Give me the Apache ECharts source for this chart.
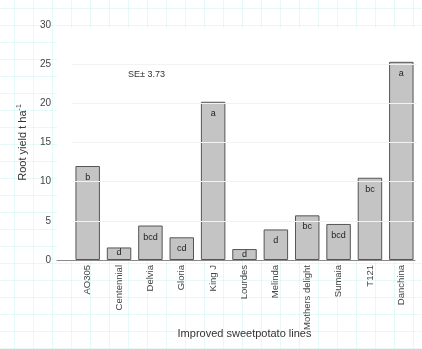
<!DOCTYPE html>
<html><head><meta charset="utf-8">
<script src="https://cdn.jsdelivr.net/npm/echarts/dist/echarts.min.js"></script>
<style>
html,body{margin:0;padding:0;background:#fff;}
#c{width:422px;height:349px;
background-image:linear-gradient(rgba(140,230,230,0.22) 1px, transparent 1px),linear-gradient(90deg, rgba(140,230,230,0.22) 1px, transparent 1px);
background-size:19px 17px;background-position:14px 8px;}
</style></head>
<body><div id="c"></div>
<script>
const categories = ['AO305','Centennial','Delvia','Gloria','King J','Lourdes','Melinda','Mothers delight','Sumaia','T121','Danchina'];
const rootYield = [12.0, 1.6, 4.4, 2.9, 20.2, 1.4, 3.9, 5.7, 4.6, 10.5, 25.3];
const meanLetters = ['b','d','bcd','cd','a','d','d','bc','bcd','bc','a'];
const yMin = 0, yMax = 30, yStep = 5;
const seText = 'SE\u00b1 3.73';

const FONT = 'Liberation Sans, Arial, sans-serif';
const chart = echarts.init(document.getElementById('c'), null, {renderer:'canvas'});
chart.setOption({
  backgroundColor: 'transparent',
  animation: false,
  textStyle: {fontFamily: FONT},
  graphic: [
    {type:'rect', left:57, top:28, shape:{width:365, height:232}, style:{fill:'#fff'}, z:-100, silent:true},
    {type:'text', left:128, top:70, style:{text:seText, fontSize:9, fill:'#333', fontFamily:FONT}}
  ],
  grid: [
    {left:57, right:7, top:25, bottom:89, show:false, containLabel:false, outerBoundsMode:'none'},
    {left:72, right:5, top:25, bottom:89, show:false, containLabel:false, outerBoundsMode:'none'}
  ],
  xAxis: [
    {gridIndex:0, type:'value', min:0, max:1, z:6,
     axisLine:{show:true, onZero:false, lineStyle:{color:'#8a8a8a', width:1}},
     axisTick:{show:false}, axisLabel:{show:false}, splitLine:{show:false}},
    {gridIndex:1, type:'category', data:categories,
     axisLine:{show:false}, axisTick:{show:false},
     axisLabel:{rotate:90, interval:0, fontSize:9.5, color:'#444', margin:5, fontFamily:FONT},
     name:'Improved sweetpotato lines', nameLocation:'middle', nameGap:68, nameMoveOverlap:false,
     nameTextStyle:{fontSize:11, color:'#333', fontFamily:FONT}}
  ],
  yAxis: [
    {gridIndex:0, type:'value', min:yMin, max:yMax, interval:yStep,
     axisLine:{show:false}, axisTick:{show:false}, splitLine:{show:false},
     axisLabel:{fontSize:10, color:'#444', margin:6, fontFamily:FONT},
     name:'{a|Root yield t ha}{b|-1}', nameLocation:'middle', nameRotate:90, nameGap:27, nameMoveOverlap:false,
     nameTextStyle:{color:'#333', rich:{a:{fontSize:11, color:'#333', fontFamily:FONT, lineHeight:14},
                                      b:{fontSize:7, color:'#333', fontFamily:FONT, verticalAlign:'top', lineHeight:14}}}},
    {gridIndex:1, type:'value', min:yMin, max:yMax, interval:yStep, z:5,
     axisLine:{show:false}, axisTick:{show:false}, axisLabel:{show:false},
     splitLine:{show:true, showMinLine:false, showMaxLine:false, lineStyle:{color:'#f2f2f2', width:1}}}
  ],
  series: [{
    type:'bar', xAxisIndex:1, yAxisIndex:1, barWidth:'78%',
    itemStyle:{color:'#c4c4c4', borderColor:'#555', borderWidth:1},
    label:{show:true, position:'insideTop', fontSize:9, color:'#222', fontFamily:FONT,
           formatter: p => meanLetters[p.dataIndex]},
    data: rootYield.map(v => ({value:v, label:{distance: v < 2 ? 1 : 7}}))
  }]
});
</script>
</body></html>
